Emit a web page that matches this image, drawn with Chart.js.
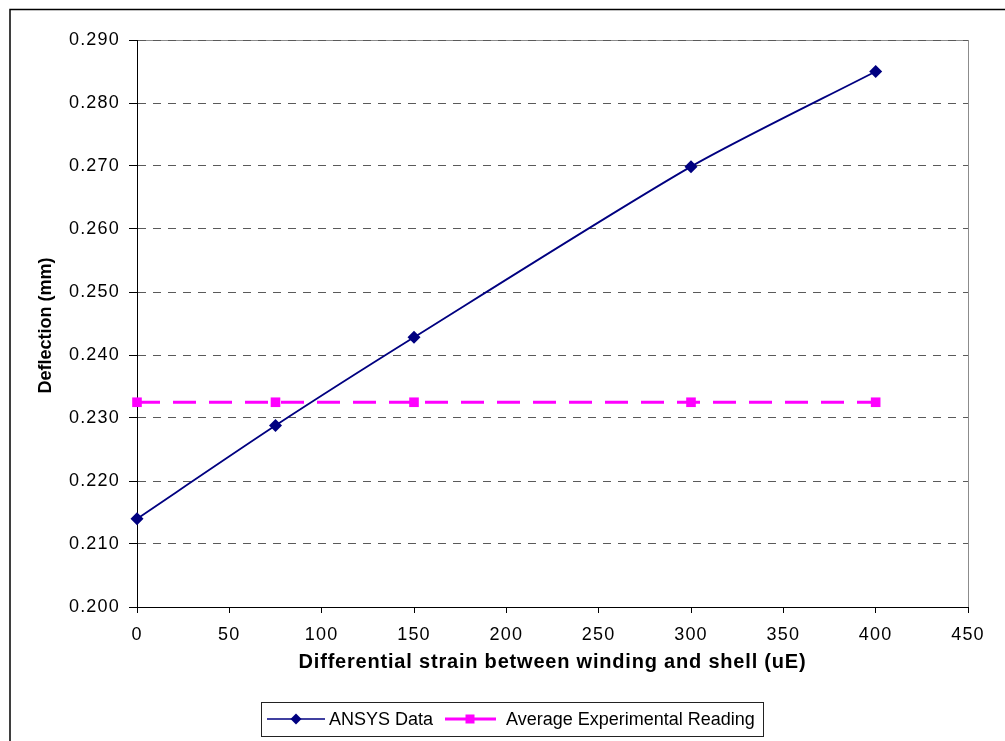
<!DOCTYPE html>
<html><head><meta charset="utf-8">
<script src="https://cdn.jsdelivr.net/npm/chart.js@4/dist/chart.umd.min.js"></script>
<style>html,body{margin:0;padding:0;background:#fff;overflow:hidden}#wrap{position:relative;width:1005px;height:741px}</style>
</head><body><div id="wrap"><canvas id="c" width="1005" height="741"></canvas></div>
<script>
const strainValues = [0, 75, 150, 300, 400];
const ansysDeflection = [0.2140, 0.2288, 0.2428, 0.2699, 0.2850];
const avgExperimental = [0.2325, 0.2325, 0.2325, 0.2325, 0.2325];
const seriesNames = ['ANSYS Data', 'Average Experimental Reading'];
const xTitle = 'Differential strain between winding and shell (uE)';
const yTitle = 'Deflection (mm)';
const xRange = [0, 450, 50];
const yRange = [0.200, 0.290, 0.010];

const FONT = '"Liberation Sans", Arial, sans-serif';
const NAVY = '#000080', PINK = '#FF00FF';
Chart.defaults.font.family = FONT;
Chart.defaults.color = '#000';

const ansysPts = strainValues.map((x, i) => ({x, y: ansysDeflection[i]}));
const avgPts = strainValues.map((x, i) => ({x, y: avgExperimental[i]}));

const decor = {
  id: 'decor',
  beforeDraw(chart) {
    const {ctx, chartArea: a} = chart;
    ctx.save();
    ctx.fillStyle = '#fff';
    ctx.fillRect(0, 0, chart.width, chart.height);
    ctx.strokeStyle = '#000';
    ctx.lineWidth = 1.5;
    ctx.beginPath();
    ctx.moveTo(10, chart.height); ctx.lineTo(10, 9.5); ctx.lineTo(chart.width, 9.5);
    ctx.stroke();
    ctx.strokeStyle = '#8c8c8c';
    ctx.lineWidth = 1;
    ctx.strokeRect(Math.round(a.left) + 0.5, Math.round(a.top) + 0.5, Math.round(a.right - a.left), Math.round(a.bottom - a.top));
    ctx.restore();
    ctx.letterSpacing = '1.2px';
  },
  afterDraw(chart) {
    const {ctx, chartArea: a} = chart;
    ctx.save();
    ctx.fillStyle = '#000';
    ctx.font = 'bold 20px ' + FONT;
    ctx.letterSpacing = '0.8px';
    ctx.textAlign = 'center';
    ctx.textBaseline = 'alphabetic';
    ctx.fillText(xTitle, (a.left + a.right) / 2, 668);
    ctx.letterSpacing = '0px';
    ctx.font = 'bold 18px ' + FONT;
    ctx.translate(50.5, (a.top + a.bottom) / 2 + 2);
    ctx.rotate(-Math.PI / 2);
    ctx.fillText(yTitle, 0, 0);
    ctx.restore();

    ctx.save();
    ctx.letterSpacing = '0px';
    ctx.strokeStyle = '#222';
    ctx.lineWidth = 1;
    ctx.strokeRect(261.5, 702.5, 502, 34);
    const cy = 719;
    ctx.strokeStyle = NAVY; ctx.lineWidth = 1.5;
    ctx.beginPath(); ctx.moveTo(267, cy); ctx.lineTo(325, cy); ctx.stroke();
    ctx.fillStyle = NAVY;
    ctx.beginPath(); ctx.moveTo(296, cy - 5.5); ctx.lineTo(301.5, cy); ctx.lineTo(296, cy + 5.5); ctx.lineTo(290.5, cy); ctx.closePath(); ctx.fill();
    ctx.strokeStyle = PINK; ctx.lineWidth = 3;
    ctx.beginPath(); ctx.moveTo(445, cy); ctx.lineTo(496, cy); ctx.stroke();
    ctx.fillStyle = PINK;
    ctx.fillRect(465.5, cy - 4.5, 9, 9);
    ctx.fillStyle = '#000';
    ctx.font = '18px ' + FONT;
    ctx.textAlign = 'left';
    ctx.textBaseline = 'alphabetic';
    ctx.fillText(seriesNames[0], 329, 725);
    ctx.fillText(seriesNames[1], 506, 725);
    ctx.restore();
  }
};

new Chart(document.getElementById('c'), {
  type: 'scatter',
  data: {
    datasets: [
      {
        label: seriesNames[0], data: ansysPts, showLine: true, clip: false,
        borderColor: NAVY, backgroundColor: NAVY, borderWidth: 1.8,
        pointStyle: 'rectRot', pointRadius: 6.5, pointBorderWidth: 0,
        pointBackgroundColor: NAVY, tension: 0.25, order: 1
      },
      {
        label: seriesNames[1], data: avgPts, showLine: true, clip: false,
        borderColor: PINK, backgroundColor: PINK, borderWidth: 3, borderDash: [23, 13],
        pointStyle: 'rect', pointRadius: 6.8, pointBorderWidth: 0,
        pointBackgroundColor: PINK, tension: 0, order: 2
      }
    ]
  },
  options: {
    responsive: false,
    animation: false,
    devicePixelRatio: 1,
    layout: {padding: {left: 0, top: 40, right: 37, bottom: 94}},
    plugins: {legend: {display: false}, tooltip: {enabled: false}},
    scales: {
      x: {
        type: 'linear', min: xRange[0], max: xRange[1],
        ticks: {stepSize: xRange[2], autoSkip: false, maxRotation: 0, padding: 11,
          font: {size: 18}, color: '#000'},
        grid: {drawOnChartArea: false, drawTicks: true, tickLength: 6, tickColor: '#000', tickWidth: 1},
        border: {display: true, color: '#000', width: 1},
        afterFit(s) { s.height = 40; s.paddingLeft = 0; s.paddingRight = 0; }
      },
      y: {
        type: 'linear', min: yRange[0], max: yRange[1],
        ticks: {stepSize: yRange[2], autoSkip: false, padding: 9, font: {size: 18}, color: '#000',
          callback: v => Number(v).toFixed(3)},
        grid: {color: '#5a5a5a', lineWidth: 1, drawTicks: true, tickLength: 8, tickColor: '#000', tickWidth: 1},
        border: {display: true, color: '#000', width: 1, dash: [8, 7]},
        afterFit(s) { s.width = 137; s.paddingTop = 0; s.paddingBottom = 0; }
      }
    }
  },
  plugins: [decor]
});
</script></body></html>
